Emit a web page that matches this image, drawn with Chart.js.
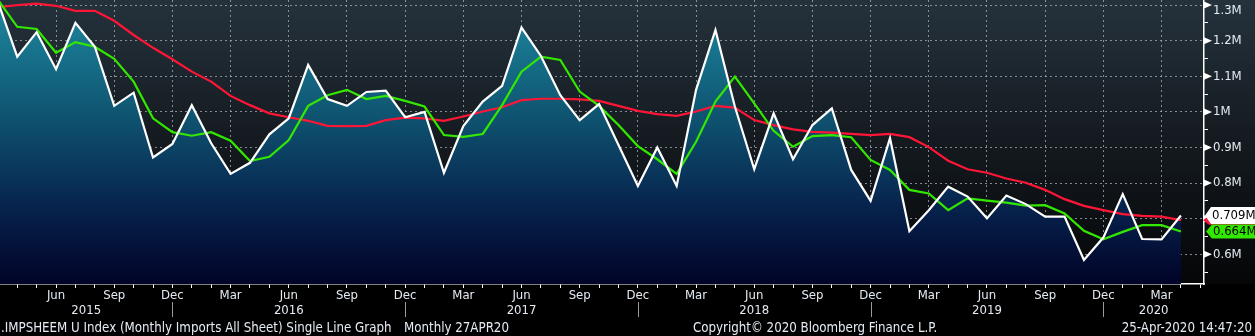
<!DOCTYPE html>
<html>
<head>
<meta charset="utf-8">
<title>IMPSHEEM U Index</title>
<script src="https://cdn.jsdelivr.net/npm/chart.js@4.4.1/dist/chart.umd.min.js"></script>
<style>
    html, body { margin: 0; padding: 0; background: #000; }
    #wrap { position: relative; width: 1255px; height: 336px; overflow: hidden; background: #000; }
    #chart { display: block; }
    .foot {
        position: absolute;
        top: 319px;
        font: 13.2px "DejaVu Sans Condensed", "DejaVu Sans", sans-serif;
        color: #e4ebf2;
        white-space: pre;
        line-height: 17px;
    }
</style>
</head>
<body>
<div id="wrap">
    <canvas id="chart" width="1255" height="336"></canvas>
    <div class="foot" style="left:1px">.IMPSHEEM U Index (Monthly Imports All Sheet) Single Line Graph</div>
    <div class="foot" style="left:404px">Monthly 27APR20</div>
    <div class="foot" style="left:693px">Copyright© 2020 Bloomberg Finance L.P.</div>
    <div class="foot" style="right:3px">25-Apr-2020 14:47:20</div>
</div>
<script>
// Monthly imports, Mar 2015 .. Apr 2020, values in millions

const monthNames = ['Jan', 'Feb', 'Mar', 'Apr', 'May', 'Jun', 'Jul', 'Aug', 'Sep', 'Oct', 'Nov', 'Dec'];
const firstMonth = 2;      // Mar
const years = ['2015', '2016', '2017', '2018', '2019', '2020'];

// raw monthly value (white, filled)
const imports = [
    1.310, 1.155, 1.224, 1.120, 1.250, 1.183, 1.017, 1.054, 0.872, 0.910,
    1.019, 0.912, 0.826, 0.857, 0.937, 0.982, 1.132, 1.036, 1.017, 1.056,
    1.060, 0.985, 1.000, 0.829, 0.960, 1.029, 1.073, 1.237, 1.157, 1.047,
    0.977, 1.022, 0.907, 0.792, 0.900, 0.792, 1.062, 1.230, 1.015, 0.839,
    0.996, 0.867, 0.963, 1.010, 0.837, 0.750, 0.926, 0.665, 0.724, 0.790,
    0.762, 0.701, 0.765, 0.741, 0.706, 0.706, 0.584, 0.647, 0.769, 0.643,
    0.642, 0.709
];

// short moving average (green)
const avgShort = [
    1.315, 1.239, 1.233, 1.166, 1.196, 1.183, 1.149, 1.085, 0.982, 0.943,
    0.933, 0.943, 0.919, 0.862, 0.874, 0.921, 1.017, 1.047, 1.062, 1.036,
    1.045, 1.031, 1.015, 0.935, 0.930, 0.938, 1.019, 1.113, 1.155, 1.146,
    1.057, 1.017, 0.963, 0.904, 0.867, 0.826, 0.916, 1.029, 1.099, 1.024,
    0.947, 0.902, 0.932, 0.935, 0.929, 0.865, 0.837, 0.781, 0.771, 0.724,
    0.757, 0.751, 0.745, 0.737, 0.738, 0.715, 0.666, 0.642, 0.663, 0.682,
    0.682, 0.664
];

// long moving average (red)
const avgLong = [
    1.294, 1.300, 1.304, 1.298, 1.284, 1.284, 1.256, 1.216, 1.180, 1.148,
    1.113, 1.085, 1.045, 1.019, 0.996, 0.985, 0.975, 0.961, 0.960, 0.961,
    0.977, 0.984, 0.982, 0.975, 0.987, 1.001, 1.013, 1.033, 1.037, 1.037,
    1.035, 1.031, 1.017, 1.003, 0.994, 0.989, 1.001, 1.017, 1.012, 0.977,
    0.963, 0.951, 0.944, 0.942, 0.938, 0.935, 0.938, 0.929, 0.901, 0.863,
    0.839, 0.829, 0.813, 0.801, 0.781, 0.755, 0.736, 0.724, 0.713, 0.708,
    0.706, 0.696
];

const yTickValues = [0.6, 0.7, 0.8, 0.9, 1.0, 1.1, 1.2, 1.3];
const yTickLabels = ['0.6M', '0.7M', '0.8M', '0.9M', '1M', '1.1M', '1.2M', '1.3M'];

const FONT = '"DejaVu Sans Condensed", "DejaVu Sans", sans-serif';
const TEXT = '#e4ebf2';
const GRID = 'rgba(170,176,182,0.75)';
const WHITE = '#ffffff';
const GREEN = '#33e800';
const RED = '#ff1636';

// visible window (month index), Mar 2015 = 0
const X_MIN = 0.11;
const X_MAX = 62.19;
const Y_MIN = 0.5166;
const Y_MAX = 1.3143;

const toPoints = arr => arr.map((v, i) => ({ x: i, y: v }));
const monthName = i => monthNames[(firstMonth + i) % 12];
const yIndex = v => yTickValues.findIndex(t => Math.abs(t - v) < 1e-6);

function fillGradient(context) {
    const area = context.chart.chartArea;
    if (!area) return 'transparent';
    const g = context.chart.ctx.createLinearGradient(0, area.top, 0, area.bottom);
    g.addColorStop(0, '#1e8aa0');
    g.addColorStop(0.4, '#0f5572');
    g.addColorStop(0.75, '#06204a');
    g.addColorStop(1, '#010327');
    return g;
}

const backgroundPlugin = {
    id: 'bbgBackground',
    beforeDraw(chart) {
        const { ctx, chartArea: a } = chart;
        const g = ctx.createLinearGradient(0, a.top, 0, a.bottom);
        g.addColorStop(0, '#25323c');
        g.addColorStop(0.5, '#141a1f');
        g.addColorStop(1, '#050608');
        ctx.save();
        ctx.fillStyle = g;
        ctx.fillRect(0, 0, chart.width, a.bottom);
        ctx.restore();
    }
};

function drawTag(ctx, x, yc, h, fill, text) {
    const top = yc - h / 2;
    const bottom = yc + h / 2;
    ctx.beginPath();
    ctx.moveTo(x, yc);
    ctx.lineTo(x + 6, top);
    ctx.lineTo(1255, top);
    ctx.lineTo(1255, bottom);
    ctx.lineTo(x + 6, bottom);
    ctx.closePath();
    ctx.fillStyle = fill;
    ctx.fill();
    if (text) {
        ctx.fillStyle = '#000';
        ctx.font = '13px ' + FONT;
        ctx.textAlign = 'left';
        ctx.textBaseline = 'middle';
        ctx.fillText(text, x + 7, yc + 0.5);
    }
}

const overlayPlugin = {
    id: 'bbgOverlay',
    afterDraw(chart) {
        const { ctx, scales: { x, y } } = chart;
        ctx.save();

        // year separators at December, year labels centred between them
        const seps = [];
        for (let i = Math.ceil(X_MIN); i <= Math.floor(X_MAX); i++) {
            if (monthName(i) === 'Dec') seps.push(i);
        }
        ctx.strokeStyle = '#9a9a9a';
        ctx.lineWidth = 1;
        seps.forEach(i => {
            const px = Math.round(x.getPixelForValue(i)) + 0.5;
            ctx.beginPath();
            ctx.moveTo(px, 302);
            ctx.lineTo(px, 317);
            ctx.stroke();
        });
        const bounds = [X_MIN, ...seps, X_MAX];
        ctx.fillStyle = TEXT;
        ctx.font = '13px ' + FONT;
        ctx.textAlign = 'center';
        ctx.textBaseline = 'middle';
        years.forEach((yr, k) => {
            const mid = (bounds[k] + bounds[k + 1]) / 2;
            ctx.fillText(yr, x.getPixelForValue(mid), 311);
        });

        // major tick flags on the right axis
        ctx.fillStyle = WHITE;
        yTickValues.forEach(v => {
            const py = y.getPixelForValue(v);
            ctx.beginPath();
            ctx.moveTo(y.left, py - 3.5);
            ctx.lineTo(y.left + 8, py);
            ctx.lineTo(y.left, py + 3.5);
            ctx.closePath();
            ctx.fill();
        });

        // last value tags
        const h = 17;
        const last = imports.length - 1;
        const yw = y.getPixelForValue(imports[last]);
        const yg = Math.max(y.getPixelForValue(avgShort[last]), yw + h - 1);
        const yr = y.getPixelForValue(avgLong[last]);
        drawTag(ctx, y.left - 1, yr, 9, RED, '');
        drawTag(ctx, y.left + 1, yw, h, WHITE, imports[last].toFixed(3) + 'M');
        drawTag(ctx, y.left + 2, yg, h - 3, GREEN, avgShort[last].toFixed(3) + 'M');

        ctx.restore();
    }
};

new Chart(document.getElementById('chart'), {
    type: 'line',
    data: {
        datasets: [
            {
                label: 'Imports',
                data: toPoints(imports),
                borderColor: WHITE,
                borderWidth: 2.2,
                backgroundColor: fillGradient,
                fill: 'start',
                pointRadius: 0,
                tension: 0
            },
            {
                label: 'Short avg',
                data: toPoints(avgShort),
                borderColor: GREEN,
                borderWidth: 2.2,
                fill: false,
                pointRadius: 0,
                tension: 0
            },
            {
                label: 'Long avg',
                data: toPoints(avgLong),
                borderColor: RED,
                borderWidth: 2.2,
                fill: false,
                pointRadius: 0,
                tension: 0
            }
        ]
    },
    options: {
        responsive: false,
        animation: false,
        layout: { padding: 0 },
        plugins: {
            legend: { display: false },
            tooltip: { enabled: false },
            filler: { drawTime: 'beforeDatasetsDraw' }
        },
        scales: {
            x: {
                type: 'linear',
                position: 'bottom',
                min: X_MIN,
                max: X_MAX,
                afterBuildTicks: s => {
                    const t = [];
                    for (let i = Math.ceil(X_MIN); i <= Math.floor(X_MAX); i++) t.push({ value: i });
                    s.ticks = t;
                },
                afterFit: s => {
                    s.height = 52;
                    s.paddingLeft = 0;
                    s.paddingRight = 0;
                },
                grid: {
                    color: c => (c.tick && c.tick.value % 3 === 0) ? GRID : 'transparent',
                    tickColor: WHITE,
                    tickLength: 4,
                    lineWidth: 1
                },
                border: { color: WHITE, width: 1.5, dash: [2, 3] },
                ticks: {
                    autoSkip: false,
                    maxRotation: 0,
                    padding: 0,
                    color: TEXT,
                    font: { family: FONT, size: 13 },
                    callback: v => (v % 3 === 0 ? monthName(v) : '')
                }
            },
            y: {
                position: 'right',
                min: Y_MIN,
                max: Y_MAX,
                afterBuildTicks: s => {
                    const t = [{ value: yTickValues[0] - 0.05 }];
                    yTickValues.forEach(v => {
                        t.push({ value: v });
                        if (v + 0.05 < Y_MAX) t.push({ value: v + 0.05 });
                    });
                    s.ticks = t;
                },
                afterFit: s => {
                    s.width = 51;
                    s.paddingTop = 0;
                    s.paddingBottom = 0;
                },
                grid: {
                    color: c => (c.tick && yIndex(c.tick.value) >= 0) ? GRID : 'transparent',
                    tickColor: WHITE,
                    tickLength: 4,
                    lineWidth: 1
                },
                border: { color: WHITE, width: 1.5, dash: [2, 3] },
                ticks: {
                    autoSkip: false,
                    padding: 5,
                    color: TEXT,
                    // the top label sits just under its tick so it stays on the canvas
                    font: c => ({
                        family: FONT,
                        size: 13,
                        lineHeight: (c.tick && yIndex(c.tick.value) === yTickValues.length - 1) ? 0.8 : 1.2
                    }),
                    callback: v => {
                        const k = yIndex(v);
                        if (k < 0) return '';
                        return k === yTickValues.length - 1 ? ['', yTickLabels[k]] : yTickLabels[k];
                    }
                }
            }
        }
    },
    plugins: [backgroundPlugin, overlayPlugin]
});
</script>
</body>
</html>
